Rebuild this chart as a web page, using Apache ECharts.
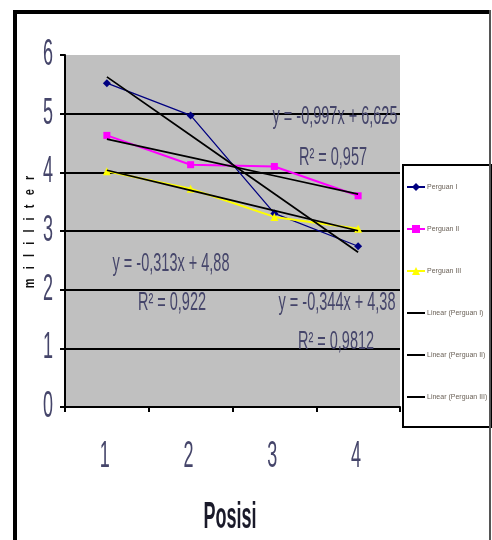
<!DOCTYPE html>
<html>
<head>
<meta charset="utf-8">
<script src="https://cdn.jsdelivr.net/npm/echarts@6/dist/echarts.min.js"></script>
<style>
  html, body { margin: 0; padding: 0; background: #fff; }
  #chart { width: 492px; height: 540px; }
</style>
</head>
<body>
<div id="chart"></div>
<script>
// Volume (mililiter) measured at four positions, three runs, each with a linear trend
const positions = ['1', '2', '3', '4'];
const yTickLabels = ['0', '1', '2', '3', '4', '5', '6'];
const seriesNames = ['Perguan I', 'Perguan II', 'Perguan III'];
const run1 = [5.52, 4.97, 3.30, 2.74];
const run2 = [4.63, 4.13, 4.10, 3.60];
const run3 = [4.02, 3.72, 3.24, 3.04];
// Trend line coefficients [slope, intercept] and R² as printed on the chart
const trend1 = [-0.997, 6.625];
const trend2 = [-0.313, 4.88];
const trend3 = [-0.344, 4.38];
const r2Values = ['0,957', '0,922', '0,9812'];

const fmt = v => String(v).replace('.', ',');
const eqText = (t) => 'y = ' + fmt(t[0]) + 'x + ' + fmt(t[1]);
const trendValues = (t) => positions.map(p => +(t[0] * Number(p) + t[1]).toFixed(4));
const trendName = (n) => 'Linear (' + n + ')';

const chart = echarts.init(document.getElementById('chart'));

const lineFont = "'Liberation Sans', Arial, sans-serif";
const labelColor = '#45456a';

const option = {
  animation: false,
  backgroundColor: '#ffffff',
  grid: { left: 65, top: 55, width: 335, height: 352, show: true, backgroundColor: '#c0c0c0', borderWidth: 0 },
  legend: {
    orient: 'vertical',
    left: 403, top: 165,
    padding: [18, 4, 26, 3],
    itemGap: 34,
    itemWidth: 18,
    itemHeight: 10,
    backgroundColor: '#ffffff',
    borderColor: '#000000',
    borderWidth: 2,
    textStyle: { fontSize: 7, color: '#6b6258', fontFamily: lineFont, padding: [0, 0, 0, -3] },
    data: [
      seriesNames[0], seriesNames[1], seriesNames[2],
      { name: trendName(seriesNames[0]), itemStyle: { opacity: 0 } },
      { name: trendName(seriesNames[1]), itemStyle: { opacity: 0 } },
      { name: trendName(seriesNames[2]), itemStyle: { opacity: 0 } }
    ]
  },
  xAxis: {
    type: 'category',
    data: positions,
    boundaryGap: true,
    axisLine: { lineStyle: { color: '#000', width: 2 } },
    axisTick: { show: true, length: 5, lineStyle: { color: '#000', width: 2 } },
    axisLabel: { show: false },
    splitLine: { show: false }
  },
  yAxis: {
    type: 'value',
    min: 0, max: 6, interval: 1,
    axisLine: { show: true, lineStyle: { color: '#000', width: 2 } },
    axisTick: { show: true, length: 5, lineStyle: { color: '#000', width: 2 } },
    axisLabel: { show: false },
    splitLine: { show: true, showMaxLine: false, showMinLine: false, lineStyle: { color: '#000', width: 2 } }
  },
  series: [
    { name: seriesNames[0], type: 'line', data: run1, symbol: 'diamond', symbolSize: 8,
      lineStyle: { color: '#000080', width: 1.3 }, itemStyle: { color: '#000080' }, z: 3 },
    { name: seriesNames[1], type: 'line', data: run2, symbol: 'rect', symbolSize: 7,
      lineStyle: { color: '#ff00ff', width: 2 }, itemStyle: { color: '#ff00ff' }, z: 3 },
    { name: seriesNames[2], type: 'line', data: run3, symbol: 'triangle', symbolSize: 8,
      lineStyle: { color: '#ffff00', width: 2 }, itemStyle: { color: '#ffff00' }, z: 3 },
    { name: trendName(seriesNames[0]), type: 'line', data: trendValues(trend1), symbol: 'none',
      lineStyle: { color: '#000', width: 1.7 }, itemStyle: { color: '#000' }, z: 4 },
    { name: trendName(seriesNames[1]), type: 'line', data: trendValues(trend2), symbol: 'none',
      lineStyle: { color: '#000', width: 1.7 }, itemStyle: { color: '#000' }, z: 4 },
    { name: trendName(seriesNames[2]), type: 'line', data: trendValues(trend3), symbol: 'none',
      lineStyle: { color: '#000', width: 1.7 }, itemStyle: { color: '#000' }, z: 4 }
  ]
};

chart.setOption(option);

// Vertically stretched text helper
function txt(text, x, y, opts) {
  opts = opts || {};
  return {
    type: 'text', x: x, y: y, z: 10,
    scaleX: opts.sx || 1, scaleY: opts.sy || 1, rotation: opts.rot || 0,
    style: {
      text: text,
      font: opts.font || ('14.5px ' + lineFont),
      fill: opts.fill || labelColor,
      align: opts.align || 'center', verticalAlign: 'middle',
      textAlign: opts.align || 'center', textVerticalAlign: 'middle'
    }
  };
}

const graphics = [];

// Outer frame
graphics.push({ type: 'rect', shape: { x: 13, y: 10, width: 478, height: 4 }, style: { fill: '#000' }, z: 10 });
graphics.push({ type: 'rect', shape: { x: 13, y: 10, width: 4, height: 530 }, style: { fill: '#000' }, z: 10 });
graphics.push({ type: 'rect', shape: { x: 489, y: 10, width: 2, height: 530 }, style: { fill: '#555' }, z: 10 });

// Tick labels placed through the axis scales
const tickFont = '18px ' + lineFont;
yTickLabels.forEach(v => {
  const py = chart.convertToPixel({ yAxisIndex: 0 }, Number(v));
  graphics.push(txt(v, 53, py, { font: tickFont, sy: 2, align: 'right' }));
});
positions.forEach(p => {
  const px = chart.convertToPixel({ xAxisIndex: 0 }, p);
  graphics.push(txt(p, px - 2, 457, { font: tickFont, sy: 2 }));
});

// Axis titles
graphics.push(txt('Posisi', 230, 518, { font: 'bold 18px ' + lineFont, sy: 2, fill: '#1a1a2a' }));
graphics.push(txt('m   i   l   i   l   i   t   e   r', 30, 232,
  { font: 'bold 11px ' + lineFont, sy: 1.4, rot: Math.PI / 2, fill: '#111' }));

// Trend equations and R²
graphics.push(txt(eqText(trend1), 335, 117, { sy: 1.75 }));
graphics.push(txt('R² = ' + r2Values[0], 333, 158, { sy: 1.75 }));
graphics.push(txt(eqText(trend2), 171, 264, { sy: 1.75 }));
graphics.push(txt('R² = ' + r2Values[1], 172, 303, { sy: 1.75 }));
graphics.push(txt(eqText(trend3), 337, 303, { sy: 1.75 }));
graphics.push(txt('R² = ' + r2Values[2], 336, 342, { sy: 1.75 }));

chart.setOption({ graphic: graphics });
</script>
</body>
</html>
